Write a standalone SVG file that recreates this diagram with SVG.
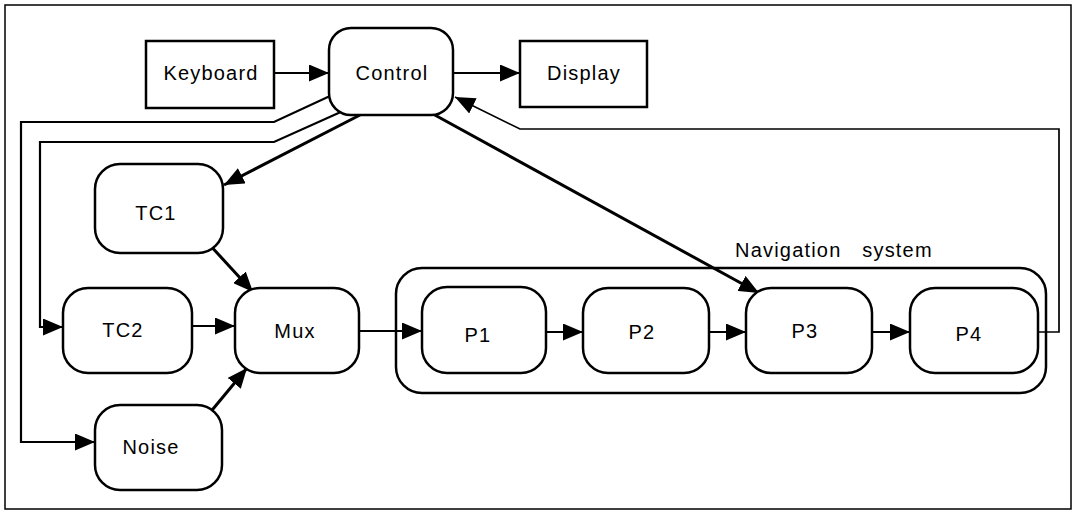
<svg xmlns="http://www.w3.org/2000/svg" width="1076" height="514" viewBox="0 0 1076 514">
<style>
  .box { fill: #fff; stroke: #000; stroke-width: 2.5; }
  .lbl { font-family: "Liberation Sans", Arial, sans-serif; font-size: 20px; letter-spacing: 1.2px; fill: #000; text-anchor: middle; }
  .c { fill: none; stroke: #000; stroke-width: 2.2; marker-end: url(#ah); }
  .thick { stroke-width: 3; }
  .thin { stroke-width: 1.7; }
</style>
<defs>
  <marker id="ah" markerUnits="userSpaceOnUse" markerWidth="21" markerHeight="17" refX="20" refY="8.5" orient="auto">
    <path d="M0,0 L20,8.5 L0,17 z" fill="#000"/>
  </marker>
</defs>
<rect x="0" y="0" width="1076" height="514" fill="#fff"/>
<rect x="5" y="5" width="1066" height="504" fill="none" stroke="#000" stroke-width="1.5"/>

<g id="navigation-system">
  <rect class="box" x="396" y="268" width="650" height="125" rx="26" ry="26"/>
  <text class="lbl" x="735" y="257" style="text-anchor:start; word-spacing:14px">Navigation system</text>
</g>

<g id="connectors">
  <line class="c" x1="274" y1="73" x2="329" y2="73"/>
  <line class="c" x1="453" y1="73" x2="520" y2="73"/>
  <polyline class="c" points="330,96 274,122 21,122 21,442 95,442"/>
  <polyline class="c" points="343,111 274,142 40,142 40,327 63,327"/>
  <line class="c thick" x1="360" y1="115" x2="224" y2="185"/>
  <line class="c thick" x1="433" y1="114" x2="759" y2="293"/>
  <line class="c thick" x1="208" y1="243" x2="253" y2="292"/>
  <line class="c thick" x1="208" y1="415" x2="247" y2="368"/>
  <line class="c" x1="192" y1="326" x2="235" y2="326"/>
  <line class="c" x1="359" y1="331" x2="422" y2="331"/>
  <line class="c" x1="546" y1="332" x2="583" y2="332"/>
  <line class="c" x1="709" y1="332" x2="746" y2="332"/>
  <line class="c" x1="872" y1="332" x2="910" y2="332"/>
  <polyline class="c thin" points="1038,332 1059,332 1059,129 520,129 455,97"/>
</g>

<g id="keyboard">
  <rect class="box" x="146" y="41" width="128" height="67"/>
  <text class="lbl" x="211" y="80">Keyboard</text>
</g>
<g id="control">
  <rect class="box" x="329" y="28" width="124" height="87" rx="22" ry="22"/>
  <text class="lbl" x="392" y="80">Control</text>
</g>
<g id="display">
  <rect class="box" x="520" y="41" width="127" height="66"/>
  <text class="lbl" x="584" y="80">Display</text>
</g>
<g id="tc1">
  <rect class="box" x="95" y="164" width="128" height="89" rx="25" ry="25"/>
  <text class="lbl" x="156" y="220">TC1</text>
</g>
<g id="tc2">
  <rect class="box" x="63" y="288" width="129" height="85" rx="25" ry="25"/>
  <text class="lbl" x="123" y="337">TC2</text>
</g>
<g id="noise">
  <rect class="box" x="95" y="405" width="127" height="85" rx="25" ry="25"/>
  <text class="lbl" x="151" y="454">Noise</text>
</g>
<g id="mux">
  <rect class="box" x="235" y="288" width="124" height="85" rx="25" ry="25"/>
  <text class="lbl" x="295" y="338">Mux</text>
</g>
<g id="p1">
  <rect class="box" x="422" y="287" width="124" height="86" rx="25" ry="25"/>
  <text class="lbl" x="478" y="342">P1</text>
</g>
<g id="p2">
  <rect class="box" x="583" y="288" width="126" height="85" rx="25" ry="25"/>
  <text class="lbl" x="642" y="339">P2</text>
</g>
<g id="p3">
  <rect class="box" x="746" y="288" width="126" height="85" rx="25" ry="25"/>
  <text class="lbl" x="805" y="338">P3</text>
</g>
<g id="p4">
  <rect class="box" x="910" y="288" width="128" height="85" rx="25" ry="25"/>
  <text class="lbl" x="969" y="341">P4</text>
</g>
</svg>
